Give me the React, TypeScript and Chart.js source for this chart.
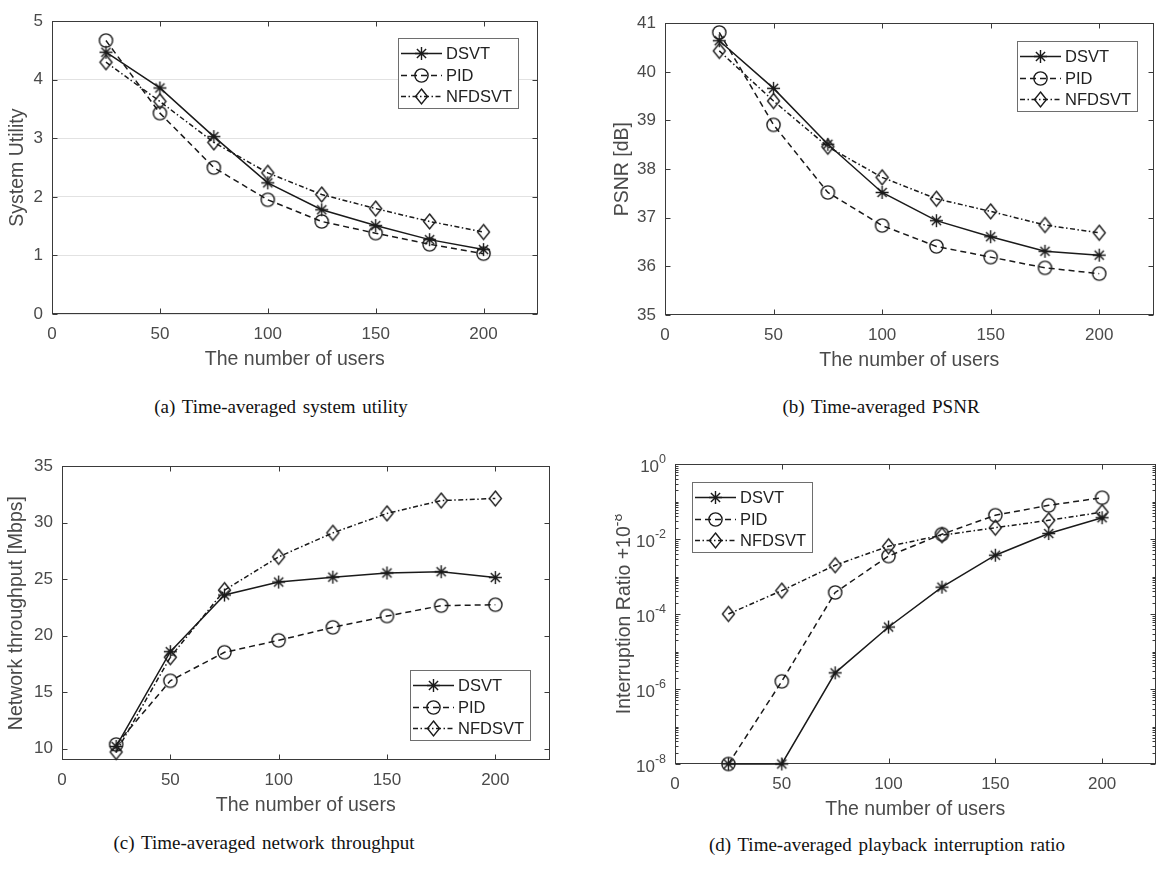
import { useEffect, useRef } from 'react';
import { Chart, registerables } from 'chart.js';

Chart.register(...registerables);

// ---------------- data ----------------
const users = [25, 50, 75, 100, 125, 150, 175, 200];
const xTickValues = [0, 50, 100, 150, 200];
const seriesLabels = ['DSVT', 'PID', 'NFDSVT'];

const utilityDSVT = [4.47, 3.86, 3.03, 2.24, 1.78, 1.51, 1.27, 1.1];
const utilityPID = [4.67, 3.43, 2.5, 1.95, 1.58, 1.38, 1.19, 1.03];
const utilityNFDSVT = [4.3, 3.63, 2.93, 2.41, 2.04, 1.8, 1.58, 1.4];
const utilityTicks = [0, 1, 2, 3, 4, 5];

const psnrDSVT = [40.64, 39.66, 38.51, 37.52, 36.94, 36.61, 36.31, 36.23];
const psnrPID = [40.81, 38.91, 37.52, 36.84, 36.41, 36.19, 35.97, 35.85];
const psnrNFDSVT = [40.43, 39.4, 38.46, 37.83, 37.39, 37.13, 36.85, 36.69];
const psnrTicks = [35, 36, 37, 38, 39, 40, 41];

const throughputDSVT = [10.2, 18.59, 23.6, 24.75, 25.18, 25.55, 25.66, 25.15];
const throughputPID = [10.37, 16.01, 18.53, 19.59, 20.74, 21.74, 22.66, 22.74];
const throughputNFDSVT = [9.71, 18.1, 24.03, 26.98, 29.1, 30.82, 31.96, 32.14];
const throughputTicks = [10, 15, 20, 25, 30, 35];

const interruptDSVT = [1e-8, 1e-8, 2.7e-6, 4.5e-5, 5.2e-4, 3.7e-3, 1.4e-2, 3.7e-2];
const interruptPID = [1e-8, 1.6e-6, 3.75e-4, 3.5e-3, 1.34e-2, 4.3e-2, 7.9e-2, 1.26e-1];
const interruptNFDSVT = [1e-4, 4.2e-4, 2.0e-3, 6.4e-3, 1.26e-2, 2.0e-2, 3.15e-2, 5.2e-2];
const interruptTickExponents = [-8, -6, -4, -2, 0];

// ---------------- style ----------------
const FONT = "'Liberation Sans', Arial, Helvetica, sans-serif";
const SERIF = "'Liberation Serif', 'Times New Roman', serif";
const INK = '#1a1a1a';
const AXIS = '#3a3a3a';
const LABEL = '#4a4a4a';
const TICK_SIZE = 17;
const TITLE_SIZE = 19.5;
const LEGEND_SIZE = 16.5;
const Y_W = 60;
const X_H = 62;
const PAD_T = 10;
const PAD_R = 4;
const DASHES: number[][] = [[], [6, 4], [5, 2.5, 1.5, 2.5]];

type Panel = {
  id: string;
  plot: { left: number; top: number; right: number; bottom: number };
  log: boolean;
  yMin: number;
  yMax: number;
  yTicks: number[];
  grid: boolean;
  yTitle: string;
  yTitleSup?: string;
  yTitleOffset: number;
  series: number[][];
  legend: { corner: 'tr' | 'br' | 'tl'; dx: number; dy: number };
  caption: string;
  captionX: number;
  captionY: number;
};

const panels: Panel[] = [
  {
    id: 'a', plot: { left: 52, top: 12, right: 541, bottom: 314 }, log: false,
    yMin: 0, yMax: 5, yTicks: utilityTicks, grid: true,
    yTitle: 'System Utility', yTitleOffset: 34,
    series: [utilityDSVT, utilityPID, utilityNFDSVT],
    legend: { corner: 'tr', dx: 19, dy: 17 },
    caption: '(a) Time-averaged system utility', captionX: 281, captionY: 407,
  },
  {
    id: 'b', plot: { left: 665, top: 14, right: 1157, bottom: 315 }, log: false,
    yMin: 35, yMax: 41, yTicks: psnrTicks, grid: false,
    yTitle: 'PSNR [dB]', yTitleOffset: 42,
    series: [psnrDSVT, psnrPID, psnrNFDSVT],
    legend: { corner: 'tr', dx: 16, dy: 18 },
    caption: '(b) Time-averaged PSNR', captionX: 881, captionY: 407,
  },
  {
    id: 'c', plot: { left: 62, top: 457, right: 553, bottom: 760 }, log: false,
    yMin: 9, yMax: 35, yTicks: throughputTicks, grid: false,
    yTitle: 'Network throughput [Mbps]', yTitleOffset: 45,
    series: [throughputDSVT, throughputPID, throughputNFDSVT],
    legend: { corner: 'br', dx: 19, dy: 19 },
    caption: '(c) Time-averaged network throughput', captionX: 264, captionY: 843,
  },
  {
    id: 'd', plot: { left: 675, top: 464, right: 1159, bottom: 764 }, log: true,
    yMin: 1e-8, yMax: 1, yTicks: interruptTickExponents.map((e) => Math.pow(10, e)), grid: false,
    yTitle: 'Interruption Ratio +10', yTitleSup: '-8', yTitleOffset: 50,
    series: [interruptDSVT, interruptPID, interruptNFDSVT],
    legend: { corner: 'tl', dx: 17, dy: 18 },
    caption: '(d) Time-averaged playback interruption ratio', captionX: 887, captionY: 845,
  },
];

// ---------------- markers ----------------
function makeMarker(kind: number): HTMLCanvasElement {
  const size = 19;
  const c = document.createElement('canvas');
  c.width = size;
  c.height = size;
  const g = c.getContext('2d')!;
  const m = size / 2;
  g.strokeStyle = INK;
  g.lineWidth = 1.4;
  g.beginPath();
  if (kind === 0) {
    const r = 6.5;
    const d = 4.6;
    g.moveTo(m - r, m); g.lineTo(m + r, m);
    g.moveTo(m, m - r); g.lineTo(m, m + r);
    g.moveTo(m - d, m - d); g.lineTo(m + d, m + d);
    g.moveTo(m - d, m + d); g.lineTo(m + d, m - d);
  } else if (kind === 1) {
    g.arc(m, m, 6.6, 0, Math.PI * 2);
  } else {
    g.moveTo(m, m - 7.5); g.lineTo(m + 6, m); g.lineTo(m, m + 7.5); g.lineTo(m - 6, m); g.closePath();
  }
  g.stroke();
  return c;
}

// ---------------- plugins ----------------
function makeFramePlugin(p: Panel) {
  return {
    id: 'frame',
    beforeDatasetsDraw(chart: any) {
      const { ctx, chartArea: a } = chart;
      const xs = chart.scales.x;
      const ys = chart.scales.y;
      const L = Math.round(a.left) + 0.5;
      const R = Math.round(a.right) - 0.5;
      const T = Math.round(a.top) + 0.5;
      const B = Math.round(a.bottom) - 0.5;
      ctx.save();
      ctx.strokeStyle = AXIS;
      ctx.lineWidth = 1;
      ctx.setLineDash([]);
      ctx.strokeRect(L, T, R - L, B - T);
      ctx.beginPath();
      for (const v of xTickValues) {
        const x = Math.round(xs.getPixelForValue(v)) + 0.5;
        ctx.moveTo(x, B); ctx.lineTo(x, B - 5);
        ctx.moveTo(x, T); ctx.lineTo(x, T + 5);
      }
      if (!p.log) {
        for (const v of p.yTicks) {
          const y = Math.round(ys.getPixelForValue(v)) + 0.5;
          ctx.moveTo(L, y); ctx.lineTo(L + 5, y);
          ctx.moveTo(R, y); ctx.lineTo(R - 5, y);
        }
      } else {
        for (let e = -8; e <= 0; e++) {
          for (let k = 1; k <= 9; k++) {
            if (e === 0 && k > 1) break;
            const v = k * Math.pow(10, e);
            const major = k === 1 && interruptTickExponents.includes(e);
            const len = major ? 5 : 3;
            const y = Math.round(ys.getPixelForValue(v)) + 0.5;
            ctx.moveTo(L, y); ctx.lineTo(L + len, y);
            ctx.moveTo(R, y); ctx.lineTo(R - len, y);
          }
        }
      }
      ctx.stroke();

      if (p.log) {
        ctx.fillStyle = LABEL;
        ctx.textBaseline = 'middle';
        for (const e of interruptTickExponents) {
          const y = ys.getPixelForValue(Math.pow(10, e));
          const sup = String(e);
          ctx.font = `12.5px ${FONT}`;
          const sw = ctx.measureText(sup).width;
          const xr = a.left - 9;
          ctx.textAlign = 'left';
          ctx.fillText(sup, xr - sw, y - 4);
          ctx.font = `${TICK_SIZE}px ${FONT}`;
          ctx.textAlign = 'right';
          ctx.fillText('10', xr - sw, y + 3);
        }
        ctx.save();
        const cx = a.left - p.yTitleOffset;
        const cy = (a.top + a.bottom) / 2;
        ctx.translate(cx, cy);
        ctx.rotate(-Math.PI / 2);
        ctx.font = `${TITLE_SIZE}px ${FONT}`;
        const mw = ctx.measureText(p.yTitle).width;
        ctx.font = `14px ${FONT}`;
        const sw = ctx.measureText(p.yTitleSup || '').width;
        const start = -(mw + sw) / 2;
        ctx.textAlign = 'left';
        ctx.textBaseline = 'middle';
        ctx.font = `${TITLE_SIZE}px ${FONT}`;
        ctx.fillText(p.yTitle, start, 0);
        ctx.font = `14px ${FONT}`;
        ctx.fillText(p.yTitleSup || '', start + mw, -7);
        ctx.restore();
      }
      ctx.restore();
    },
  };
}

function makeLegendPlugin(p: Panel) {
  return {
    id: 'boxLegend',
    afterDatasetsDraw(chart: any) {
      const { ctx, chartArea: a } = chart;
      const W = 121;
      const H = 71;
      const lg = p.legend;
      let bx = lg.corner === 'tl' ? a.left + lg.dx : a.right - lg.dx - W;
      let by = lg.corner === 'br' ? a.bottom - lg.dy - H : a.top + lg.dy;
      bx = Math.round(bx);
      by = Math.round(by);
      ctx.save();
      ctx.fillStyle = '#ffffff';
      ctx.fillRect(bx, by, W, H);
      ctx.strokeStyle = '#6e6e6e';
      ctx.lineWidth = 1;
      ctx.setLineDash([]);
      ctx.strokeRect(bx + 0.5, by + 0.5, W - 1, H - 1);
      const rows = [15, 37, 58];
      chart.data.datasets.forEach((ds: any, i: number) => {
        const y = by + rows[i] + 0.5;
        ctx.strokeStyle = INK;
        ctx.lineWidth = ds.borderWidth;
        ctx.setLineDash(ds.borderDash || []);
        ctx.beginPath();
        ctx.moveTo(bx + 3, y);
        ctx.lineTo(bx + 44, y);
        ctx.stroke();
        ctx.setLineDash([]);
        const m = ds.pointStyle as HTMLCanvasElement;
        ctx.drawImage(m, Math.round(bx + 23.5 - m.width / 2), Math.round(y - m.height / 2));
        ctx.fillStyle = '#222222';
        ctx.font = `${LEGEND_SIZE}px ${FONT}`;
        ctx.textBaseline = 'middle';
        ctx.textAlign = 'left';
        ctx.fillText(ds.label, bx + 48, y + 1);
      });
      ctx.restore();
    },
  };
}

function geometry(p: Panel) {
  const left = p.plot.left - Y_W;
  const top = p.plot.top - PAD_T;
  const width = p.plot.right - p.plot.left + Y_W + PAD_R;
  const height = p.plot.bottom - p.plot.top + PAD_T + X_H;
  return { left, top, width, height };
}

function buildConfig(p: Panel, markers: HTMLCanvasElement[]): any {
  const tickFont = { family: FONT, size: TICK_SIZE };
  const titleFont = { family: FONT, size: TITLE_SIZE };
  const lh = TITLE_SIZE * 1.2;
  return {
    type: 'line',
    data: {
      datasets: p.series.map((vals, i) => ({
        label: seriesLabels[i],
        data: users.map((u, j) => ({ x: u, y: vals[j] })),
        borderColor: INK,
        backgroundColor: 'rgba(0,0,0,0)',
        borderWidth: 1.5,
        borderDash: DASHES[i],
        pointStyle: markers[i],
        pointRadius: 6,
        fill: false,
        tension: 0,
        clip: false,
      })),
    },
    options: {
      animation: false,
      responsive: false,
      maintainAspectRatio: false,
      devicePixelRatio: 1,
      events: [],
      layout: { padding: { top: PAD_T, right: PAD_R, left: 0, bottom: 0 } },
      plugins: { legend: { display: false }, tooltip: { enabled: false } },
      scales: {
        x: {
          type: 'linear',
          min: 0,
          max: 225,
          afterBuildTicks: (s: any) => { s.ticks = xTickValues.map((v) => ({ value: v })); },
          afterFit: (s: any) => { s.height = X_H; },
          grid: { display: false, drawTicks: false },
          border: { display: false },
          ticks: { font: tickFont, color: LABEL, padding: 10, maxRotation: 0 },
          title: {
            display: true, text: 'The number of users', font: titleFont, color: LABEL,
            padding: { top: 0, bottom: X_H - 46 - lh / 2 },
          },
        },
        y: {
          type: p.log ? 'logarithmic' : 'linear',
          min: p.yMin,
          max: p.yMax,
          afterBuildTicks: (s: any) => { s.ticks = p.yTicks.map((v) => ({ value: v })); },
          afterFit: (s: any) => { s.width = Y_W; },
          grid: { display: p.grid, drawTicks: false, color: '#e2e2e2', lineWidth: 1 },
          border: { display: false },
          ticks: { display: !p.log, font: tickFont, color: LABEL, padding: 9 },
          title: {
            display: !p.log, text: p.yTitle, font: titleFont, color: LABEL,
            padding: { top: Y_W - p.yTitleOffset - lh / 2, bottom: 0 },
          },
        },
      },
    },
    plugins: [makeFramePlugin(p), makeLegendPlugin(p)],
  };
}

function PanelChart({ p }: { p: Panel }) {
  const ref = useRef<HTMLCanvasElement>(null);
  const g = geometry(p);
  useEffect(() => {
    const markers = [makeMarker(0), makeMarker(1), makeMarker(2)];
    const chart = new Chart(ref.current as HTMLCanvasElement, buildConfig(p, markers));
    return () => chart.destroy();
  }, []);
  return (
    <canvas
      ref={ref}
      width={g.width}
      height={g.height}
      style={{ position: 'absolute', left: g.left, top: g.top, width: g.width, height: g.height }}
    />
  );
}

export default function App() {
  return (
    <div
      style={{
        position: 'fixed', left: 0, top: 0, width: 1161, height: 873,
        overflow: 'hidden', background: '#ffffff',
      }}
    >
      {panels.map((p) => (
        <PanelChart key={p.id} p={p} />
      ))}
      {panels.map((p) => (
        <div
          key={'cap' + p.id}
          style={{
            position: 'absolute', left: p.captionX - 300, width: 600, top: p.captionY - 11,
            height: 22, lineHeight: '22px', textAlign: 'center', fontFamily: SERIF,
            fontSize: 19, color: '#111', wordSpacing: 2, whiteSpace: 'nowrap',
          }}
        >
          {p.caption}
        </div>
      ))}
    </div>
  );
}
